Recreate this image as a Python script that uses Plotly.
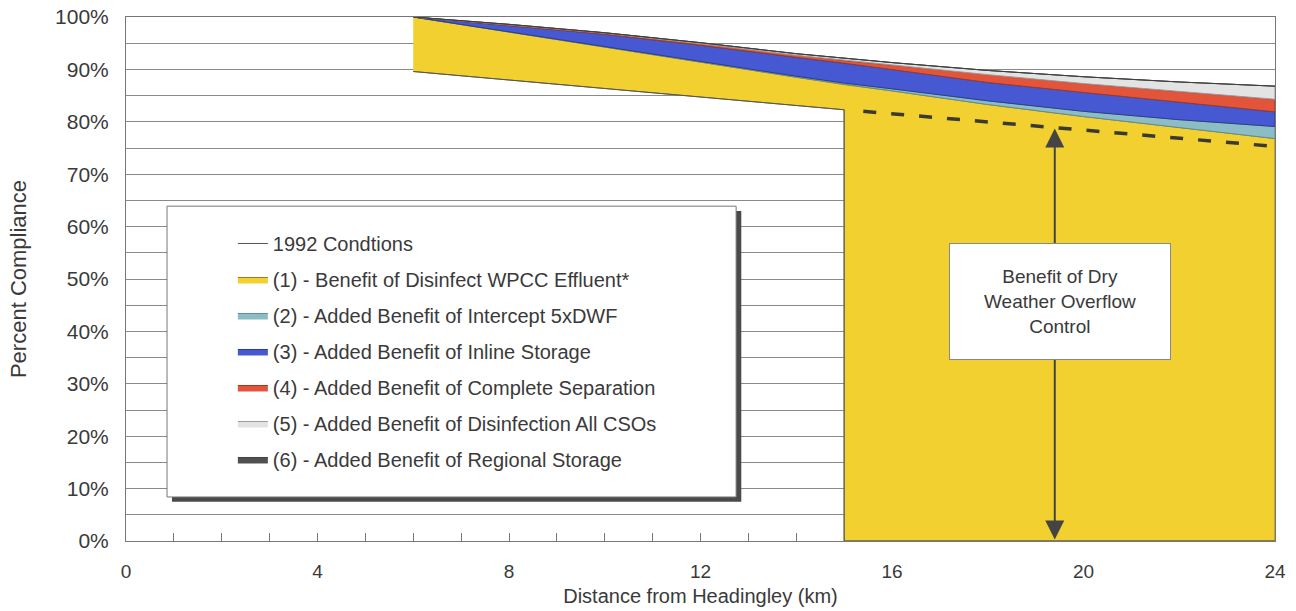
import plotly.graph_objects as go

# ---------------- data ----------------
distance_km = [6, 8, 10, 12, 14, 15, 16, 18, 20, 22, 24]

# cumulative percent compliance after each added measure
after_1_wpcc = [100, 97.1, 94.3, 91.4, 88.5, 87.1, 85.9, 83.3, 81.0, 78.9, 76.8]
after_2_intercept = [100, 97.15, 94.4, 91.5, 88.7, 87.4, 86.3, 84.0, 82.0, 80.4, 79.1]
after_3_inline = [100, 98.4, 96.7, 94.6, 92.3, 91.2, 90.0, 87.5, 85.6, 83.7, 81.9]
after_4_separation = [100, 98.5, 96.9, 94.9, 92.7, 91.7, 90.8, 89.0, 87.3, 85.8, 84.3]
after_5_disinfect = [100, 98.6, 97.0, 95.1, 93.0, 92.1, 91.3, 89.8, 88.6, 87.6, 86.8]
after_6_regional = [100, 98.6, 97.0, 95.1, 93.0, 92.1, 91.3, 89.8, 88.6, 87.6, 86.8]

cond_1992_km = [6, 15, 15, 24]
cond_1992 = [89.6, 82.3, 0, 0]

no_dwf_km = [15.4, 24]
no_dwf = [82.0, 75.3]

arrow_km = 19.4
arrow_top = 78.7

layer_names = [
    "(1) - Benefit of Disinfect WPCC Effluent*",
    "(2) - Added Benefit of Intercept 5xDWF",
    "(3) - Added Benefit of Inline Storage",
    "(4) - Added Benefit of Complete Separation",
    "(5) - Added Benefit of Disinfection All CSOs",
    "(6) - Added Benefit of Regional Storage",
]
layer_tops = [after_1_wpcc, after_2_intercept, after_3_inline,
              after_4_separation, after_5_disinfect, after_6_regional]
fill_colors = ["#F2D030", "#8CBCC4", "#4659D2", "#E2553A", "#E3E3E3", "#505050"]
edge_colors = ["#8C7A2E", "#5E8E96", "#2E3C8C", "#9A3A28", "#9A9A9A", "#404040"]

x_ticks = [0, 4, 8, 12, 16, 20, 24]
y_ticks = [0, 10, 20, 30, 40, 50, 60, 70, 80, 90, 100]
y_tick_text = [f"{v}%" for v in y_ticks]

FONT = "Liberation Sans, Arial, sans-serif"
TXT = "#3a3a3a"

fig = go.Figure()

prev_x = cond_1992_km
prev_y = cond_1992
for i, (name, tops) in enumerate(zip(layer_names, layer_tops)):
    xs = list(distance_km) + list(reversed(prev_x))
    ys = list(tops) + list(reversed(prev_y))
    fig.add_trace(go.Scatter(
        x=xs, y=ys, mode="lines", fill="toself",
        fillcolor=fill_colors[i],
        line=dict(color=edge_colors[i], width=1),
        name=name, legendgroup=f"g{i+1}", legendrank=i + 2,
        hoverinfo="skip",
    ))
    prev_x = distance_km
    prev_y = tops

fig.add_trace(go.Scatter(
    x=cond_1992_km, y=cond_1992, mode="lines",
    line=dict(color="#555555", width=1),
    name="1992 Condtions", legendgroup="g0", legendrank=1,
))

fig.add_trace(go.Scatter(
    x=no_dwf_km, y=no_dwf, mode="lines",
    line=dict(color="#3a3a30", width=3.5, dash="13px,15px"),
    showlegend=False,
))

# box + shadow behind legend
fig.add_shape(type="rect", xref="paper", yref="paper",
              x0=0.0400, x1=0.5355, y0=0.075, y1=0.630,
              fillcolor="#4a4a4a", line=dict(width=0), layer="above")
fig.add_shape(type="rect", xref="paper", yref="paper",
              x0=0.0357, x1=0.5310, y0=0.084, y1=0.639,
              fillcolor="white", line=dict(color="#777777", width=1), layer="above")

# double headed arrow
fig.add_annotation(x=arrow_km, y=arrow_top, ax=arrow_km, ay=0,
                   xref="x", yref="y", axref="x", ayref="y",
                   text="", showarrow=True, arrowhead=2, arrowside="end+start",
                   arrowsize=1.9, arrowwidth=2, arrowcolor="#444444",
                   standoff=0, startstandoff=0)
fig.add_annotation(x=19.5, y=45.8, xref="x", yref="y",
                   text="Benefit of Dry<br>Weather Overflow<br>Control",
                   showarrow=False, bgcolor="white", bordercolor="#888888",
                   borderwidth=1, borderpad=4, width=212, height=107,
                   font=dict(family=FONT, size=19, color=TXT))

fig.update_layout(
    width=1296, height=611,
    margin=dict(l=126, r=21, t=17, b=70, autoexpand=False),
    paper_bgcolor="white", plot_bgcolor="white",
    font=dict(family=FONT, size=20, color=TXT),
    showlegend=True,
    legend=dict(x=0.093, y=0.605, xanchor="left", yanchor="top",
                bgcolor="rgba(0,0,0,0)", borderwidth=0,
                font=dict(family=FONT, size=20, color=TXT),
                tracegroupgap=7),
    xaxis=dict(range=[0, 24], tickvals=x_ticks, ticks="inside", ticklen=8,
               tickcolor="#777777", showgrid=False, zeroline=False,
               showline=True, linecolor="#777777", mirror=True,
               minor=dict(dtick=1, ticks="inside", ticklen=8, tickcolor="#777777"),
               ticklabelstandoff=13, layer="below traces", automargin=False,
               ticklabeloverflow="allow",
               tickfont=dict(size=19),
               title=dict(text="Distance from Headingley (km)", standoff=8,
                          font=dict(size=20))),
    yaxis=dict(range=[0, 100], tickvals=y_ticks, ticktext=y_tick_text,
               ticks="", showgrid=True, gridcolor="#8a8a8a", gridwidth=1,
               minor=dict(dtick=5, showgrid=True, gridcolor="#8a8a8a", gridwidth=1),
               zeroline=False, showline=True, linecolor="#777777", mirror=True,
               ticklabelstandoff=12, tickfont=dict(size=21), automargin=False,
               ticklabeloverflow="allow",
               title=dict(text="Percent Compliance", standoff=22,
                          font=dict(size=22))),
)

fig.write_html("out.html",
               config={"displayModeBar": False},
               post_script="document.body.style.margin='0';document.body.style.overflow='hidden';")
